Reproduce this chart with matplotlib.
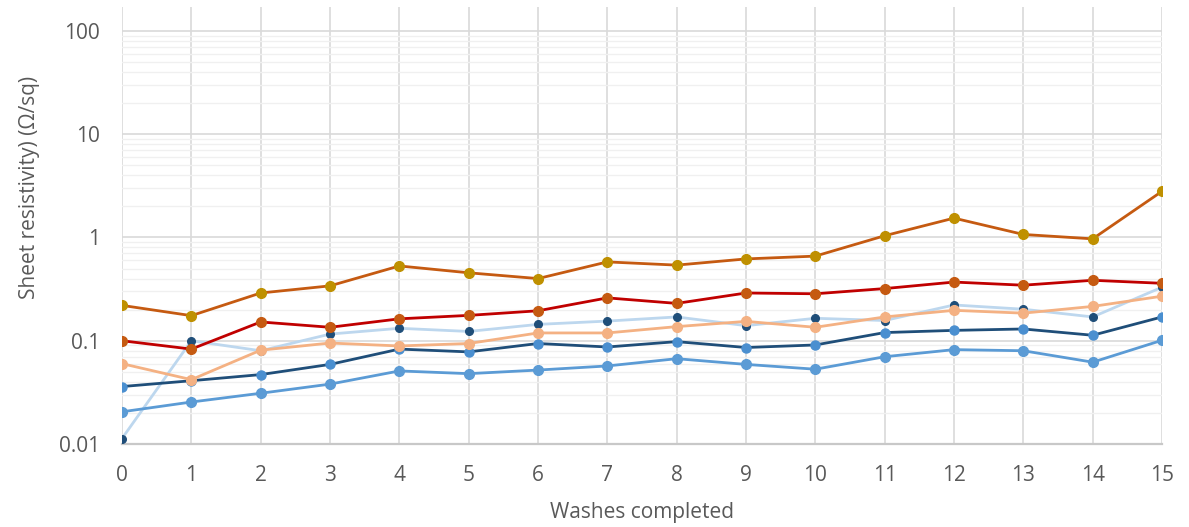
import matplotlib.pyplot as plt
from matplotlib.ticker import LogLocator, NullFormatter, FixedFormatter, FixedLocator
import numpy as np

plt.rcParams['font.family'] = ['Open Sans', 'DejaVu Sans']

washes = np.arange(0, 16)

# series values (sheet resistivity, ohm/sq)
s_orange = [0.22, 0.175, 0.29, 0.34, 0.53, 0.455, 0.40, 0.58, 0.54, 0.62,
            0.66, 1.04, 1.54, 1.07, 0.97, 2.8]
s_red = [0.10, 0.083, 0.152, 0.135, 0.163, 0.176, 0.195, 0.26, 0.23, 0.29,
         0.285, 0.32, 0.37, 0.345, 0.385, 0.36]
s_lightblue = [0.0113, 0.10, 0.08, 0.116, 0.132, 0.123, 0.144, 0.155, 0.17, 0.14,
               0.165, 0.157, 0.222, 0.202, 0.17, 0.33]
s_peach = [0.060, 0.042, 0.081, 0.095, 0.089, 0.094, 0.119, 0.119, 0.137, 0.154,
           0.135, 0.17, 0.197, 0.185, 0.215, 0.27]
s_navy = [0.036, 0.041, 0.047, 0.059, 0.083, 0.078, 0.094, 0.087, 0.098, 0.086,
          0.091, 0.12, 0.126, 0.13, 0.113, 0.17]
s_blue = [0.0205, 0.0255, 0.031, 0.038, 0.051, 0.048, 0.052, 0.057, 0.067, 0.059,
          0.053, 0.070, 0.082, 0.080, 0.062, 0.101]

ytick_vals = [0.01, 0.1, 1, 10, 100]
ytick_labels = ['0.01', '0.1', '1', '10', '100']

fig = plt.figure(figsize=(11.89, 5.27), dpi=100)
ax = fig.add_axes([0.1026, 0.1575, 0.8747, 0.8292])

lw = 2.0
ax.plot(washes, s_lightblue, color='#BDD7EE', lw=lw, marker='o', ms=5.5,
        mfc='#1F4E79', mec='#1F4E79', zorder=3)
ax.plot(washes, s_navy, color='#1F4E79', lw=lw, marker='o', ms=6.5,
        mfc='#4A8FD0', mec='#4A8FD0', zorder=3)
ax.plot(washes, s_blue, color='#5B9BD5', lw=lw, marker='o', ms=7,
        mfc='#5B9BD5', mec='#5B9BD5', zorder=3)
ax.plot(washes, s_peach, color='#F4B183', lw=lw, marker='o', ms=7,
        mfc='#F4B183', mec='#F4B183', zorder=3)
ax.plot(washes, s_red, color='#C00000', lw=lw, marker='o', ms=7,
        mfc='#C55A11', mec='#C55A11', zorder=3)
ax.plot(washes, s_orange, color='#C55A11', lw=lw, marker='o', ms=7,
        mfc='#BF9000', mec='#BF9000', zorder=3)

ax.set_yscale('log')
ax.set_ylim(0.01, 10 ** 2.232)
ax.set_xlim(0, 15)
ax.set_xticks(washes)
ax.yaxis.set_major_locator(FixedLocator(ytick_vals))
ax.yaxis.set_major_formatter(FixedFormatter(ytick_labels))
ax.yaxis.set_minor_locator(LogLocator(base=10, subs=np.arange(2, 10), numticks=20))
ax.yaxis.set_minor_formatter(NullFormatter())

ax.grid(True, which='major', axis='both', color='#D9D9D9', lw=1.2, zorder=0)
ax.grid(True, which='minor', axis='y', color='#F0F0F0', lw=1.0, zorder=0)
ax.set_axisbelow(True)

for side in ['top', 'right', 'left']:
    ax.spines[side].set_visible(False)
ax.spines['bottom'].set_color('#C8C8C8')
ax.spines['bottom'].set_linewidth(1.6)

ax.tick_params(axis='both', which='both', length=0, labelsize=15, colors='#595959')
ax.tick_params(axis='x', pad=15)
ax.tick_params(axis='y', pad=16)

ax.set_xlabel('Washes completed', fontsize=15, color='#595959', labelpad=12)
fig.text(30 / 1189, 1 - 187 / 527, 'Sheet resistivity) (Ω/sq)', rotation=90,
         fontsize=15, color='#595959', ha='center', va='center')

plt.savefig('out.png', dpi=100)
